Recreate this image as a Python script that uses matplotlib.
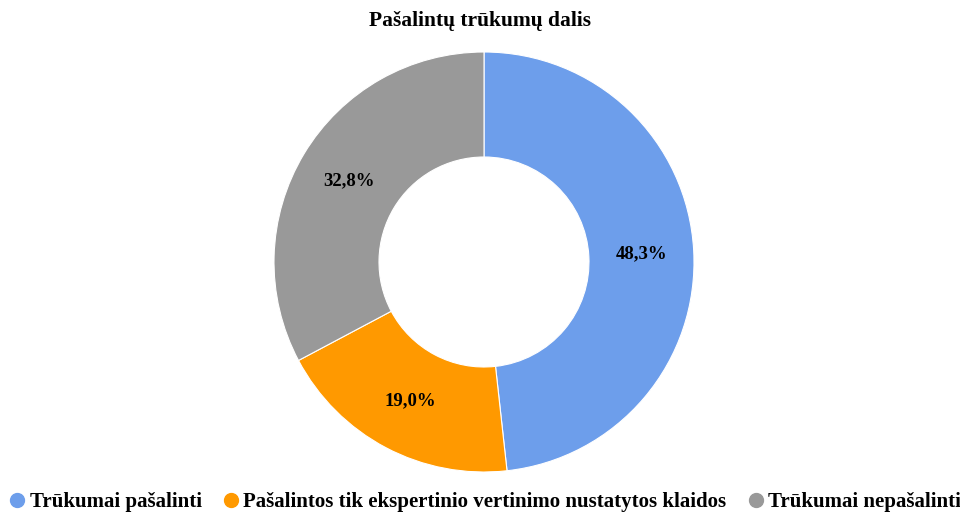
import matplotlib.pyplot as plt
from matplotlib.lines import Line2D
import numpy as np

# Data
labels = ["Trūkumai pašalinti", "Pašalintos tik ekspertinio vertinimo nustatytos klaidos", "Trūkumai nepašalinti"]
values = [48.3, 19.0, 32.8]
pct_labels = ["48,3%", "19,0%", "32,8%"]
colors = ["#6d9eeb", "#ff9900", "#999999"]

plt.rcParams["font.family"] = ["Liberation Serif", "DejaVu Serif"]

fig = plt.figure(figsize=(9.6, 5.13), dpi=100)
ax = fig.add_axes([274 / 960, 41 / 513, 420 / 960, 420 / 513])

wedges, _ = ax.pie(values, colors=colors, startangle=90, counterclock=False,
                   radius=1, wedgeprops=dict(width=0.5, edgecolor="white", linewidth=0.8))

# percentage labels at 0.75 radius
total = sum(values)
angle = 90.0
for v, txt in zip(values, pct_labels):
    mid = angle - v / total * 360 / 2
    angle -= v / total * 360
    x = 0.75 * np.cos(np.radians(mid))
    y = 0.75 * np.sin(np.radians(mid))
    ax.text(x, y, txt, ha="center", va="center", fontsize=13.5, fontweight="bold", color="black")

ax.set_xlim(-1, 1)
ax.set_ylim(-1, 1)
ax.set_aspect("equal")
ax.axis("off")

fig.text(0.5, 1 - 21 / 513, "Pašalintų trūkumų dalis", ha="center", va="center",
         fontsize=15.5, fontweight="bold", color="black")

handles = [Line2D([0], [0], marker="o", linestyle="", markersize=10,
                  markerfacecolor=c, markeredgecolor=c) for c in colors]
fig.legend(handles, labels, loc="center", bbox_to_anchor=(0.504, 1 - 502 / 513), ncol=3,
           frameon=False, prop=dict(size=15, weight="bold"), handletextpad=0.1,
           columnspacing=0.9, handlelength=1.0, labelcolor="black")

fig.savefig("out.png", dpi=100, facecolor="white")
